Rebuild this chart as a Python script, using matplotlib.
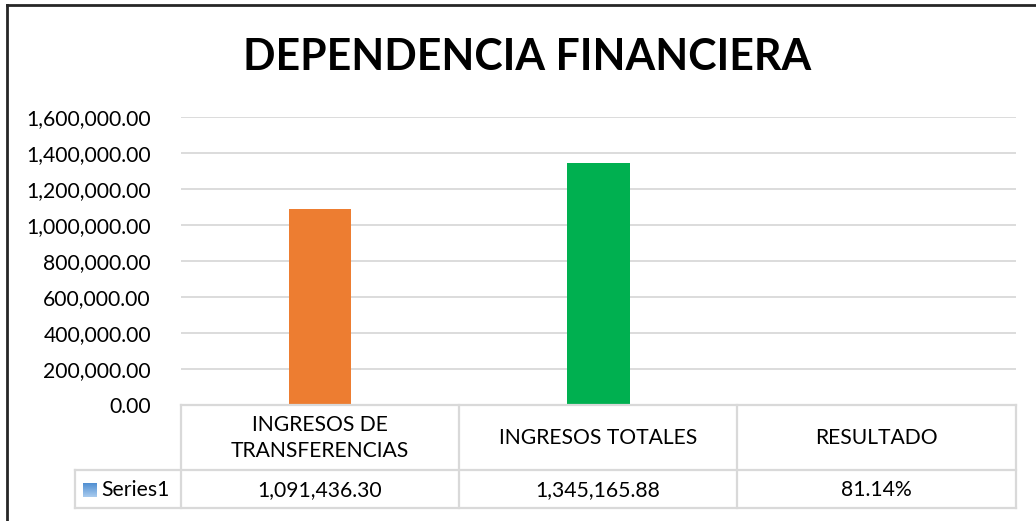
import matplotlib
matplotlib.use("Agg")
import matplotlib.pyplot as plt
import numpy as np
from matplotlib.ticker import FuncFormatter
from matplotlib.lines import Line2D
from matplotlib.colors import LinearSegmentedColormap

# Data
categories = ["INGRESOS DE\nTRANSFERENCIAS", "INGRESOS TOTALES", "RESULTADO"]
values = [1091436.30, 1345165.88, 0.8114]
value_labels = ["1,091,436.30", "1,345,165.88", "81.14%"]
bar_colors = ["#ED7D31", "#00B050", "#5B9BD5"]
series_name = "Series1"
yticks = [0, 200000, 400000, 600000, 800000, 1000000, 1200000, 1400000, 1600000]
title = "DEPENDENCIA FINANCIERA"

plt.rcParams["font.family"] = ["Lato", "DejaVu Sans"]

W, H = 1036, 521
fig = plt.figure(figsize=(W / 100, H / 100), dpi=100)
fig.patch.set_facecolor("white")

def fx(px):
    return px / W

def fy(py):
    return 1 - py / H

# Outer chart frame (left and top edges)
fig.add_artist(Line2D([fx(7), fx(7)], [fy(5), fy(521)], color="#262626", lw=2.0, transform=fig.transFigure))
fig.add_artist(Line2D([fx(7), fx(1036)], [fy(5), fy(5)], color="#262626", lw=2.0, transform=fig.transFigure))

FS = 15.2

left, right, top, bottom = 181, 1016, 117, 405
ax = fig.add_axes([fx(left), fy(bottom), fx(right - left), fy(top) - fy(bottom)])
x = np.arange(len(categories))
ax.bar(x, values, width=0.223, color=bar_colors, zorder=3)
ax.set_xlim(-0.5, len(categories) - 0.5)
ax.set_ylim(0, 1600000)
ax.set_yticks(yticks)
ax.yaxis.set_major_formatter(FuncFormatter(lambda v, p: f"{v:,.2f}"))
ax.tick_params(axis="y", length=0, pad=21.6, labelsize=FS, labelcolor="#000000")
ax.set_xticks([])
ax.grid(axis="y", color="#D9D9D9", lw=1.3, zorder=0)
for s in ax.spines.values():
    s.set_visible(False)

fig.text(fx(527), fy(57), title, ha="center", va="center", fontsize=30.8,
         fontweight="bold", color="#000000")

# Data table below the plot
grid_c = "#D9D9D9"
lw = 1.6
row1, row2, row3 = 405, 470, 508
col_edges = [181, 459, 737, 1016]
legend_left = 75

def hline(y, x0, x1):
    fig.add_artist(Line2D([fx(x0), fx(x1)], [fy(y), fy(y)], color=grid_c, lw=lw, transform=fig.transFigure))

def vline(xp, y0, y1):
    fig.add_artist(Line2D([fx(xp), fx(xp)], [fy(y0), fy(y1)], color=grid_c, lw=lw, transform=fig.transFigure))

hline(row1, col_edges[0], col_edges[-1])
hline(row2, legend_left, col_edges[-1])
hline(row3, legend_left, col_edges[-1])
for c in col_edges:
    vline(c, row1, row3)
vline(legend_left, row2, row3)

for i, (cat, lab) in enumerate(zip(categories, value_labels)):
    cx = (col_edges[i] + col_edges[i + 1]) / 2
    fig.text(fx(cx), fy((row1 + row2) / 2 + 0.5), cat, ha="center", va="center",
             fontsize=FS, linespacing=1.35, color="#000000")
    fig.text(fx(cx), fy((row2 + row3) / 2 + 1), lab, ha="center", va="center",
             fontsize=FS, color="#000000")

# Legend key with soft blue gradient
grad = np.linspace(0, 1, 50).reshape(-1, 1)
kax = fig.add_axes([fx(83), fy(497), fx(14), fy(483) - fy(497)])
cmap = LinearSegmentedColormap.from_list("key", ["#4A8BD0", "#A9CBEE"])
kax.imshow(grad, aspect="auto", cmap=cmap)
kax.axis("off")
fig.text(fx(101), fy((row2 + row3) / 2 + 1), series_name, ha="left", va="center",
         fontsize=FS, color="#000000")

fig.savefig("out.png", dpi=100, facecolor="white")
